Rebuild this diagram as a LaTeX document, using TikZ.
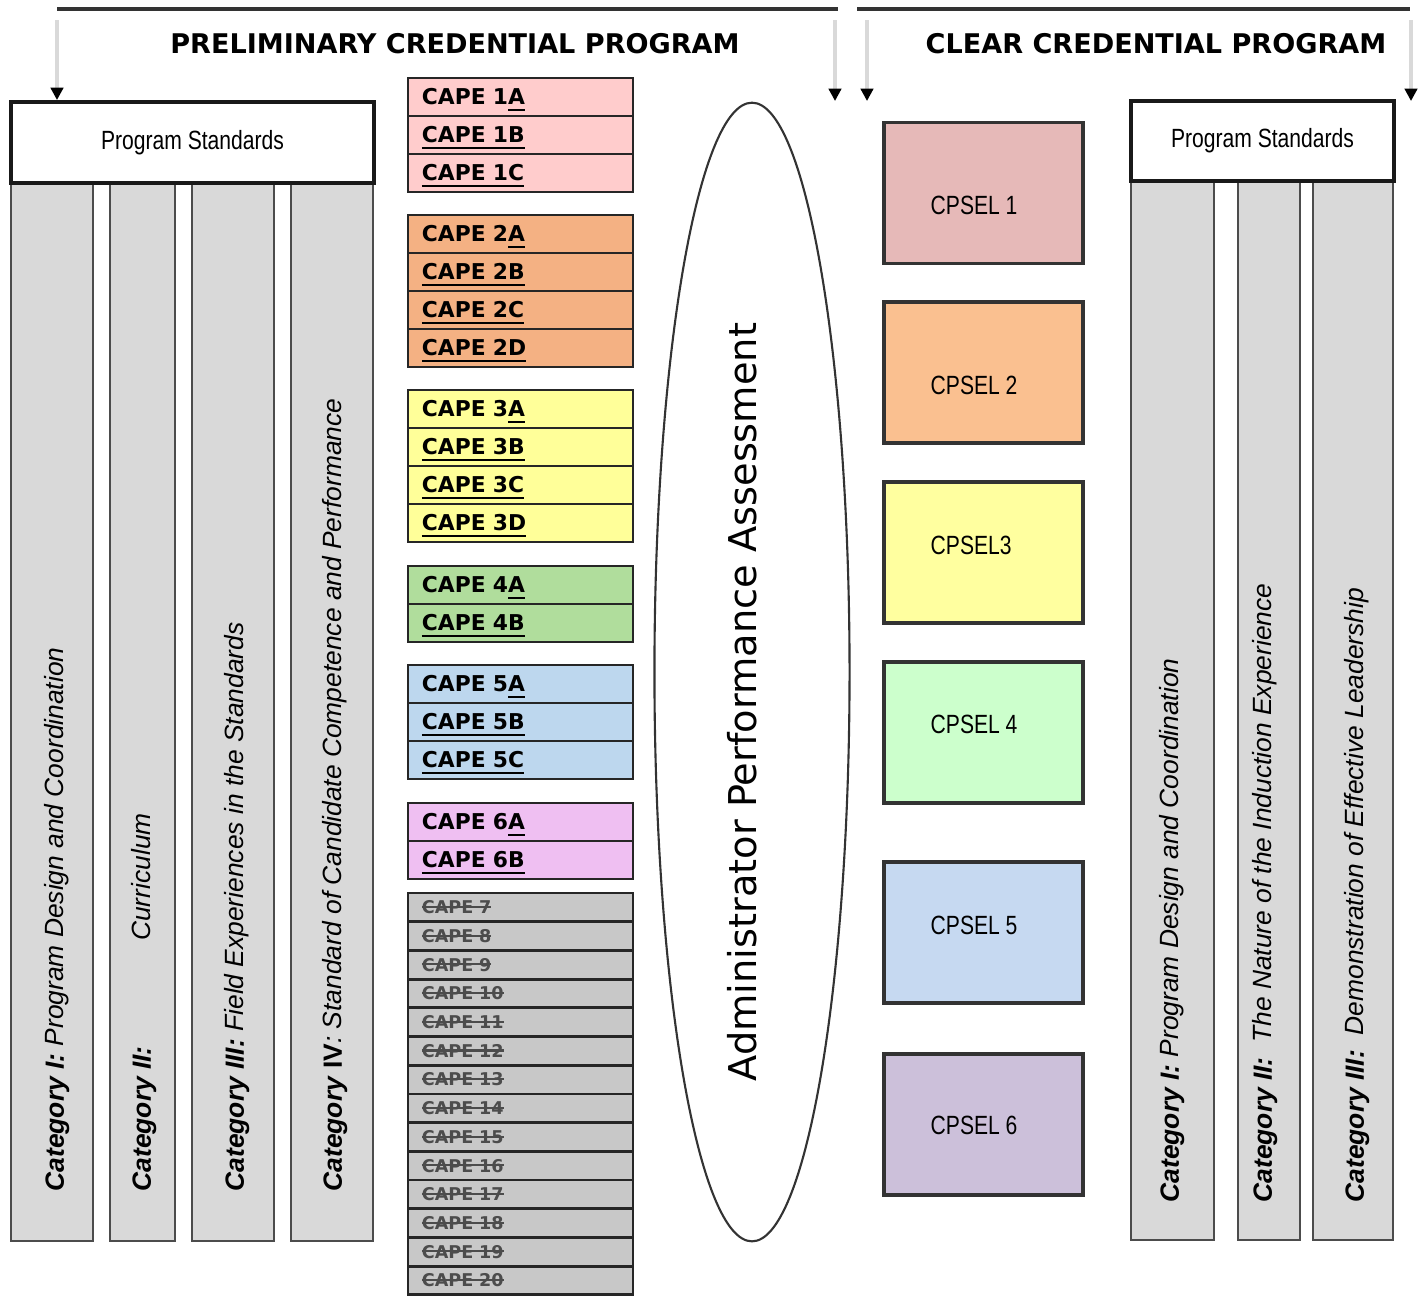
\documentclass[tikz,border=0pt]{standalone}
\usepackage{fontspec}
\usepackage{graphicx}
\usetikzlibrary{shapes.geometric,arrows.meta,positioning}
\newfontfamily\verd{DejaVu Sans}
\newfontfamily\tah{Liberation Sans}
\definecolor{cape1}{HTML}{FFCCCC}
\definecolor{cape2}{HTML}{F4B183}
\definecolor{cape3}{HTML}{FFFF99}
\definecolor{cape4}{HTML}{B0DD9C}
\definecolor{cape5}{HTML}{BDD7EE}
\definecolor{cape6}{HTML}{EFBFF2}
\definecolor{cape7}{HTML}{C8C8C8}
\definecolor{cpsel1}{HTML}{E6B9B8}
\definecolor{cpsel2}{HTML}{FAC090}
\definecolor{cpsel3}{HTML}{FFFF9F}
\definecolor{cpsel4}{HTML}{CCFFCC}
\definecolor{cpsel5}{HTML}{C6D9F1}
\definecolor{cpsel6}{HTML}{CCC0DA}
\newcommand\narrowtxt[1]{\scalebox{0.8}[1]{#1}}
\newcommand\crossout[1]{\setbox0\hbox{#1}\rlap{\rule[0.32em]{\wd0}{0.6pt}}\box0}
\tikzset{
  titletxt/.style={font=\verd\bfseries\fontsize{7.7}{9}\selectfont},
  feed/.style={draw=black!15, line width=0.9pt, -{Triangle[black,length=3.5pt,width=3.5pt]}},
  topline/.style={draw=black!80, line width=1pt},
  psbox/.style={draw=black!90, line width=1.1pt, fill=white, font=\tah\fontsize{7.5}{9}\selectfont},
  colbox/.style={draw=black!70, line width=0.8pt, fill=black!15},
  cattxt/.style={rotate=90, anchor=west, inner sep=0pt, font=\tah\fontsize{7.5}{9}\selectfont\itshape},
  capebox/.style={draw=black!85, line width=0.8pt, minimum height=0.38cm, text width=1.97cm, text height=4.5pt, text depth=0pt, inner xsep=0.14cm, inner ysep=0pt, align=left, font=\verd\bfseries\fontsize{6.2}{7}\selectfont},
  oldbox/.style={capebox, minimum height=0.287cm, text height=3.6pt, fill=cape7, text=black!70, font=\verd\bfseries\fontsize{5}{6}\selectfont},
  cpselbox/.style={draw=black!80, line width=1pt, minimum width=1.99cm, minimum height=1.41cm},
  cpseltxt/.style={anchor=west, inner sep=0pt, font=\tah\fontsize{7.5}{9}\selectfont}
}
\begin{document}
\begin{tikzpicture}[x=0.01cm, y=-0.01cm]
\useasboundingbox (0,0) rectangle (1421,1296);
% headings
\draw[topline] (57,9) -- (838,9);
\draw[topline] (857,9) -- (1410,9);
\node[titletxt] (pretitle) at (455,44) {PRELIMINARY CREDENTIAL PROGRAM};
\node[titletxt] (cleartitle) at (1156,44) {CLEAR CREDENTIAL PROGRAM};
% preliminary program standards
\foreach \n/\xa/\xb/\xt/\txt in {1/11/93/57/{\textbf{Category I:} Program Design and Coordination},
  2/110/175/144/{\textbf{Category II:}\hspace{30pt}Curriculum},
  3/192/274/237/{\textbf{Category III:} Field Experiences in the Standards},
  4/291/373/335/{\textbf{Category \textup{IV}}: Standard of Candidate Competence and Performance}}{
  \draw[colbox] (\xa,183) rectangle (\xb,1241);
  \node[cattxt] (lcat\n) at (\xt,1192) {\txt};
}
\node[psbox, minimum width=3.63cm, minimum height=0.81cm] (lps) at (192.5,142.5) {\narrowtxt{Program Standards}};
% clear program standards
\foreach \n/\xa/\xb/\xt/\txt in {1/1131/1214/1172/{\textbf{Category I:} Program Design and Coordination},
  2/1238/1300/1265/{\textbf{Category II:}\ \ The Nature of the Induction Experience},
  3/1313/1393/1357/{\textbf{Category III:}\ \ Demonstration of Effective Leadership}}{
  \draw[colbox] (\xa,181) rectangle (\xb,1240);
  \node[cattxt] (rcat\n) at (\xt,1203) {\txt};
}
\node[psbox, minimum width=2.63cm, minimum height=0.80cm] (rps) at (1262.5,141) {\narrowtxt{Program Standards}};
% feeds
\coordinate (f1) at (57,20);
\coordinate (f2) at (835,20); \coordinate (f2e) at (835,101);
\coordinate (f3) at (867,20); \coordinate (f3e) at (867,101);
\coordinate (f4) at (1411,20); \coordinate (f4e) at (1411,101);
\draw[feed] (f1) -- (f1 |- lps.north);
\draw[feed] (f2) -- (f2e);
\draw[feed] (f3) -- (f3e);
\draw[feed] (f4) -- (f4e);
% CAPE
\foreach \g/\yt/\rows in {1/78/{A,B,C}, 2/215/{A,B,C,D}, 3/390/{A,B,C,D}, 4/566/{A,B}, 5/665/{A,B,C}, 6/803/{A,B}}
  \foreach \r [count=\k] in \rows
    \node[capebox, fill=cape\g] (cape\g\r) at (520.5,\yt+\k*38-19) {\ifnum\k=1 CAPE \g\underline{\r}\else\underline{CAPE \g\r}\fi};
\foreach \n [count=\k] in {7,...,20}
  \node[oldbox] (cape\n) at (520.5,893+\k*28.7-14.35) {\crossout{CAPE \n}};
% assessment
\node[draw=black!80, line width=0.6pt, ellipse, minimum width=1.95cm, minimum height=11.38cm, inner sep=0pt] (apa) at (752,672) {};
\node[rotate=90, font=\verd\fontsize{10.9}{13}\selectfont] (apatxt) at (742,702) {Administrator Performance Assessment};
% CPSEL
\foreach \i/\yc/\yl/\lab in {1/193/205/CPSEL 1, 2/372.5/385/CPSEL 2, 3/552.5/545/CPSEL3, 4/732.5/724/CPSEL 4, 5/932.5/925/CPSEL 5, 6/1124.5/1125/CPSEL 6}{
  \node[cpselbox, fill=cpsel\i] (cpsel\i) at (983.5,\yc) {};
  \node[cpseltxt] (lab\i) at (930,\yl) {\narrowtxt{\lab}};
}
\end{tikzpicture}
\end{document}
